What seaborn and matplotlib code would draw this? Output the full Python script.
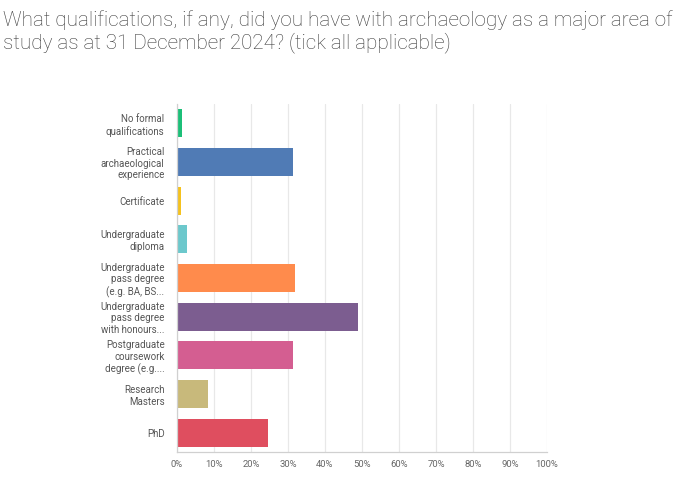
import matplotlib
matplotlib.use('Agg')
import matplotlib.pyplot as plt
import seaborn as sns
import pandas as pd
from matplotlib.ticker import PercentFormatter

# ---------- data ----------
categories = [
    'No formal\nqualifications',
    'Practical\narchaeological\nexperience',
    'Certificate',
    'Undergraduate\ndiploma',
    'Undergraduate\npass degree\n(e.g. BA, BS...',
    'Undergraduate\npass degree\nwith honours...',
    'Postgraduate\ncoursework\ndegree (e.g....',
    'Research\nMasters',
    'PhD',
]
percent = [1.3, 31.4, 1.1, 2.8, 31.9, 48.8, 31.4, 8.5, 24.6]
bar_colors = ['#1cbf78', '#507bb5', '#f5c21e', '#6cc8cc', '#ff8b4c',
              '#7c5d90', '#d45e91', '#c8b97b', '#df4e5f']
x_ticks = list(range(0, 101, 10))

df = pd.DataFrame({'answer': categories, 'pct': percent})

# ---------- style ----------
sns.set_theme(style='white')
plt.rcParams['font.family'] = ['Roboto', 'DejaVu Sans']

fig = plt.figure(figsize=(6.8, 4.87), dpi=100)
ax = fig.add_axes([0.2603, 0.0719, 0.5441, 0.7145])

sns.barplot(data=df, x='pct', y='answer', hue='answer', palette=bar_colors,
            legend=False, width=0.73, ax=ax, saturation=1, edgecolor='none')

ax.set_xlim(0, 100)
ax.set_xticks(x_ticks)
ax.xaxis.set_major_formatter(PercentFormatter(decimals=0))
ax.grid(axis='x', color='#e8e8e8', linewidth=0.9)
ax.set_axisbelow(True)
ax.set_xlabel('')
ax.set_ylabel('')

for side in ['top', 'right']:
    ax.spines[side].set_visible(False)
for side in ['left', 'bottom']:
    ax.spines[side].set_color('#d0d0d0')
    ax.spines[side].set_linewidth(0.9)

ax.tick_params(axis='y', length=0, pad=9, labelsize=7.0, labelcolor='#555555')
ax.tick_params(axis='x', length=0, pad=6, labelsize=6.8, labelcolor='#666666')
for lbl in ax.get_yticklabels():
    lbl.set_horizontalalignment('right')
    lbl.set_multialignment('right')
    lbl.set_linespacing(1.2)

fig.text(0.004, 0.978, 'What qualifications, if any, did you have with archaeology as a major area of\n'
         'study as at 31 December 2024? (tick all applicable)',
         ha='left', va='top', fontsize=14.9, color='#3a3a3a', linespacing=1.1,
         fontweight='light')

fig.savefig('out.png', dpi=100, facecolor='white')
